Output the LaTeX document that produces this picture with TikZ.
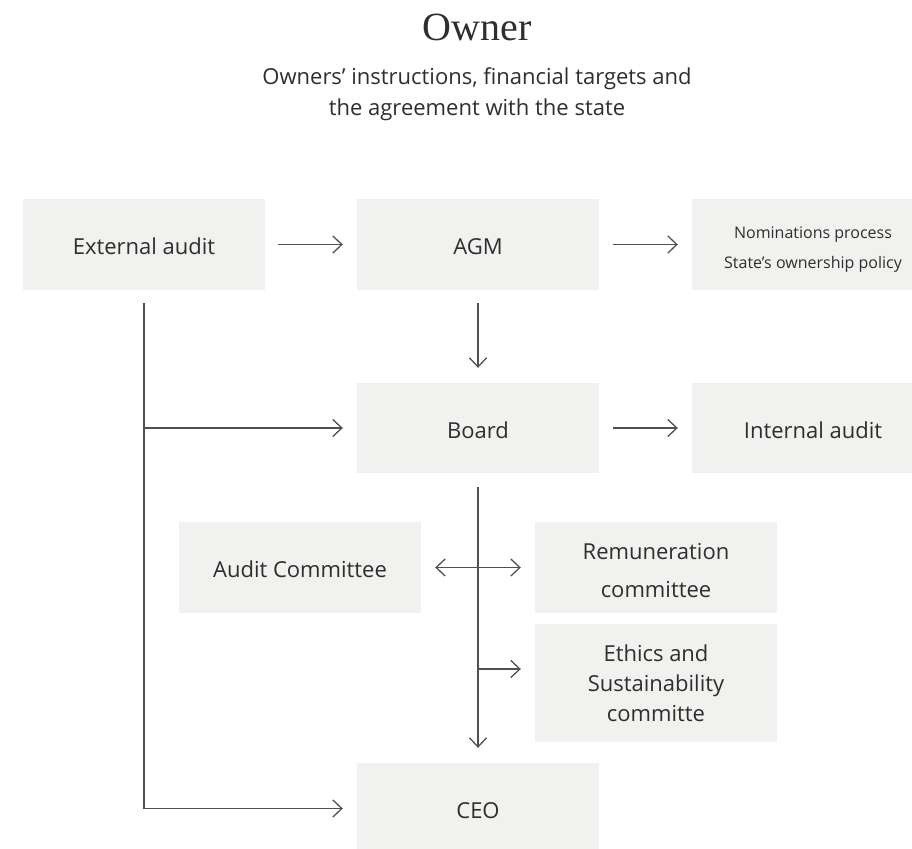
\documentclass[tikz,border=0pt]{standalone}
\usepackage{fontspec}
\setmainfont{Open Sans}
\newfontfamily\titlefont{Liberation Serif}
\usetikzlibrary{arrows.meta}
\definecolor{boxfill}{HTML}{F1F1EF}
\definecolor{txt}{HTML}{2E2E2E}
\definecolor{ln}{HTML}{505050}
\begin{document}
\begin{tikzpicture}[x=1pt,y=-1pt,
  box/.style={fill=boxfill, draw=none, minimum width=242pt, minimum height=91pt,
    inner sep=0pt, text=txt, font=\fontsize{22}{30}\selectfont, align=center},
  one/.style={text height=20pt, text depth=0pt},
  conn/.style={draw=ln, line width=1.3pt, -{Straight Barb[length=9pt,width=17pt]}},
  dconn/.style={draw=ln, line width=1.3pt, {Straight Barb[length=9pt,width=17pt]}-{Straight Barb[length=9pt,width=17pt]}}]
\clip (0,0) rectangle (912,848);
\useasboundingbox (0,0) rectangle (912,848);
% header
\node[font=\titlefont\fontsize{40}{40}\selectfont, text=txt, anchor=base] (title) at (477,41) {Owner};
\node[font=\fontsize{22}{31}\selectfont, text=txt, align=center] (sub) at (477,93.8)
  {Owners’ instructions, financial targets and\\the agreement with the state};
% boxes
\node[box, one] (ext) at (144,244.5) {External audit};
\node[box, one] (agm) at (478,244.5) {AGM};
\node[box, font=\fontsize{16}{30}\selectfont] (nom) at (813,244.5)
  {\rule{0pt}{22pt}Nominations process\\State’s ownership policy};
\node[box, one, minimum height=90pt] (board) at (478,428) {Board};
\node[box, one, minimum height=90pt] (int) at (813,428) {Internal audit};
\node[box, one] (ac) at (300,567.5) {Audit Committee};
\node[box, font=\fontsize{22}{38}\selectfont] (rem) at (656,567.5) {\rule{0pt}{22.5pt}Remuneration\\committee};
\node[box, minimum height=118pt] (eth) at (656,683) {Ethics and\\Sustainability\\committe};
\node[box, one] (ceo) at (478,808.5) {CEO};
% connectors
\draw[conn, shorten <=13pt, shorten >=14pt] (ext) -- (agm);
\draw[conn, shorten <=14pt, shorten >=14pt] (agm) -- (nom);
\draw[conn, shorten <=13pt, shorten >=15pt] (agm) -- (board);
\draw[conn, shorten <=14pt, shorten >=14pt] (board) -- (int);
\draw[conn, shorten <=13pt, shorten >=14pt] (ext.south) |- (ceo.west);
\coordinate (bj) at (ext.south |- board.west);
\draw[conn, shorten >=14pt] (bj) -- (board.west);
\draw[conn, shorten <=14pt, shorten >=15pt] (board) -- (ceo);
\draw[dconn, shorten <=14pt, shorten >=14pt] (ac) -- (rem);
\coordinate (ej) at (478,669);
\draw[conn, shorten >=14pt] (ej) -- (ej -| eth.west);
\end{tikzpicture}
\end{document}
